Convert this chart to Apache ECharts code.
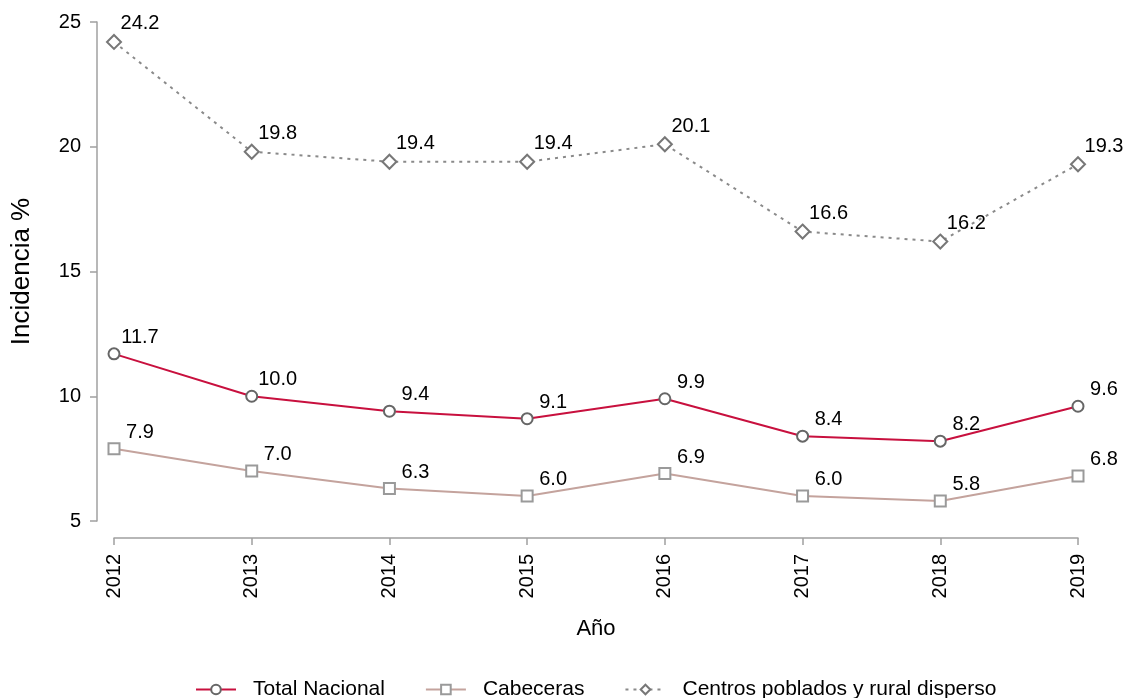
<!DOCTYPE html>
<html>
<head>
<meta charset="utf-8">
<script src="https://cdn.jsdelivr.net/npm/echarts@6/dist/echarts.min.js"></script>
<style>
  html, body { margin: 0; padding: 0; background: #fff; }
  #main { width: 1126px; height: 698px; }
</style>
</head>
<body>
<div id="main"></div>
<script>
const years = ['2012', '2013', '2014', '2015', '2016', '2017', '2018', '2019']
const totalNacional = [11.7, 10.0, 9.4, 9.1, 9.9, 8.4, 8.2, 9.6]
const cabeceras = [7.9, 7.0, 6.3, 6.0, 6.9, 6.0, 5.8, 6.8]
const centrosPoblados = [24.2, 19.8, 19.4, 19.4, 20.1, 16.6, 16.2, 19.3]

const font = 'Liberation Sans, Arial, sans-serif'
const axisGray = '#a0a0a0'

const pointLabel = {
    show: true,
    position: 'top',
    distance: 3,
    offset: [26, 3],
    color: '#000',
    fontSize: 20,
    fontFamily: font,
    formatter: p => p.value.toFixed(1)
}

const makeSeries = (name, data, lineColor, markerColor, symbol, size, lineType) => ({
    name: name,
    type: 'line',
    data: data,
    symbol: symbol,
    symbolSize: size,
    showAllSymbol: true,
    itemStyle: {
        color: '#fff',
        borderColor: markerColor,
        borderWidth: 2
    },
    lineStyle: {
        color: lineColor,
        width: 2,
        type: lineType
    },
    label: pointLabel,
    emphasis: { disabled: true }
})

let chart = echarts.init(document.getElementById('main'))
chart.setOption({
    animation: false,
    textStyle: { fontFamily: font },
    grid: {
        left: 114,
        right: 48,
        top: 22,
        bottom: 177,
        outerBoundsMode: 'none',
        containLabel: false
    },
    legend: {
        top: 674,
        left: 190,
        itemWidth: 40,
        itemHeight: 12,
        itemGap: 40,
        textStyle: { fontSize: 21, color: '#000', fontFamily: font, padding: [0, 0, 0, 12] },
        data: ['Total Nacional', 'Cabeceras', 'Centros poblados y rural disperso']
    },
    xAxis: {
        type: 'category',
        data: years,
        boundaryGap: false,
        offset: 17,
        name: 'Año',
        nameLocation: 'middle',
        nameGap: 80,
        nameTextStyle: { fontSize: 22, color: '#000' },
        axisLine: { lineStyle: { color: axisGray, width: 1.5 } },
        axisTick: { show: true, length: 7, alignWithLabel: true, lineStyle: { color: axisGray, width: 1.5 } },
        axisLabel: { rotate: 90, fontSize: 20, color: '#000', margin: 16 },
        splitLine: { show: false }
    },
    yAxis: {
        type: 'value',
        min: 5,
        max: 25,
        interval: 5,
        offset: 17,
        name: 'Incidencia %',
        nameLocation: 'middle',
        nameGap: 62,
        nameTextStyle: { fontSize: 26, color: '#000' },
        axisLine: { show: true, lineStyle: { color: axisGray, width: 1.5 } },
        axisTick: { show: true, length: 7, lineStyle: { color: axisGray, width: 1.5 } },
        axisLabel: { fontSize: 20, color: '#000', margin: 16 },
        splitLine: { show: false }
    },
    series: [
        makeSeries('Total Nacional', totalNacional, '#c8103e', '#666666', 'circle', 11, 'solid'),
        makeSeries('Cabeceras', cabeceras, '#c4a39d', '#9a9a9a', 'rect', 11, 'solid'),
        makeSeries('Centros poblados y rural disperso', centrosPoblados, '#8a8a8a', '#777777', 'diamond', 14, [3, 5])
    ]
})
</script>
</body>
</html>
